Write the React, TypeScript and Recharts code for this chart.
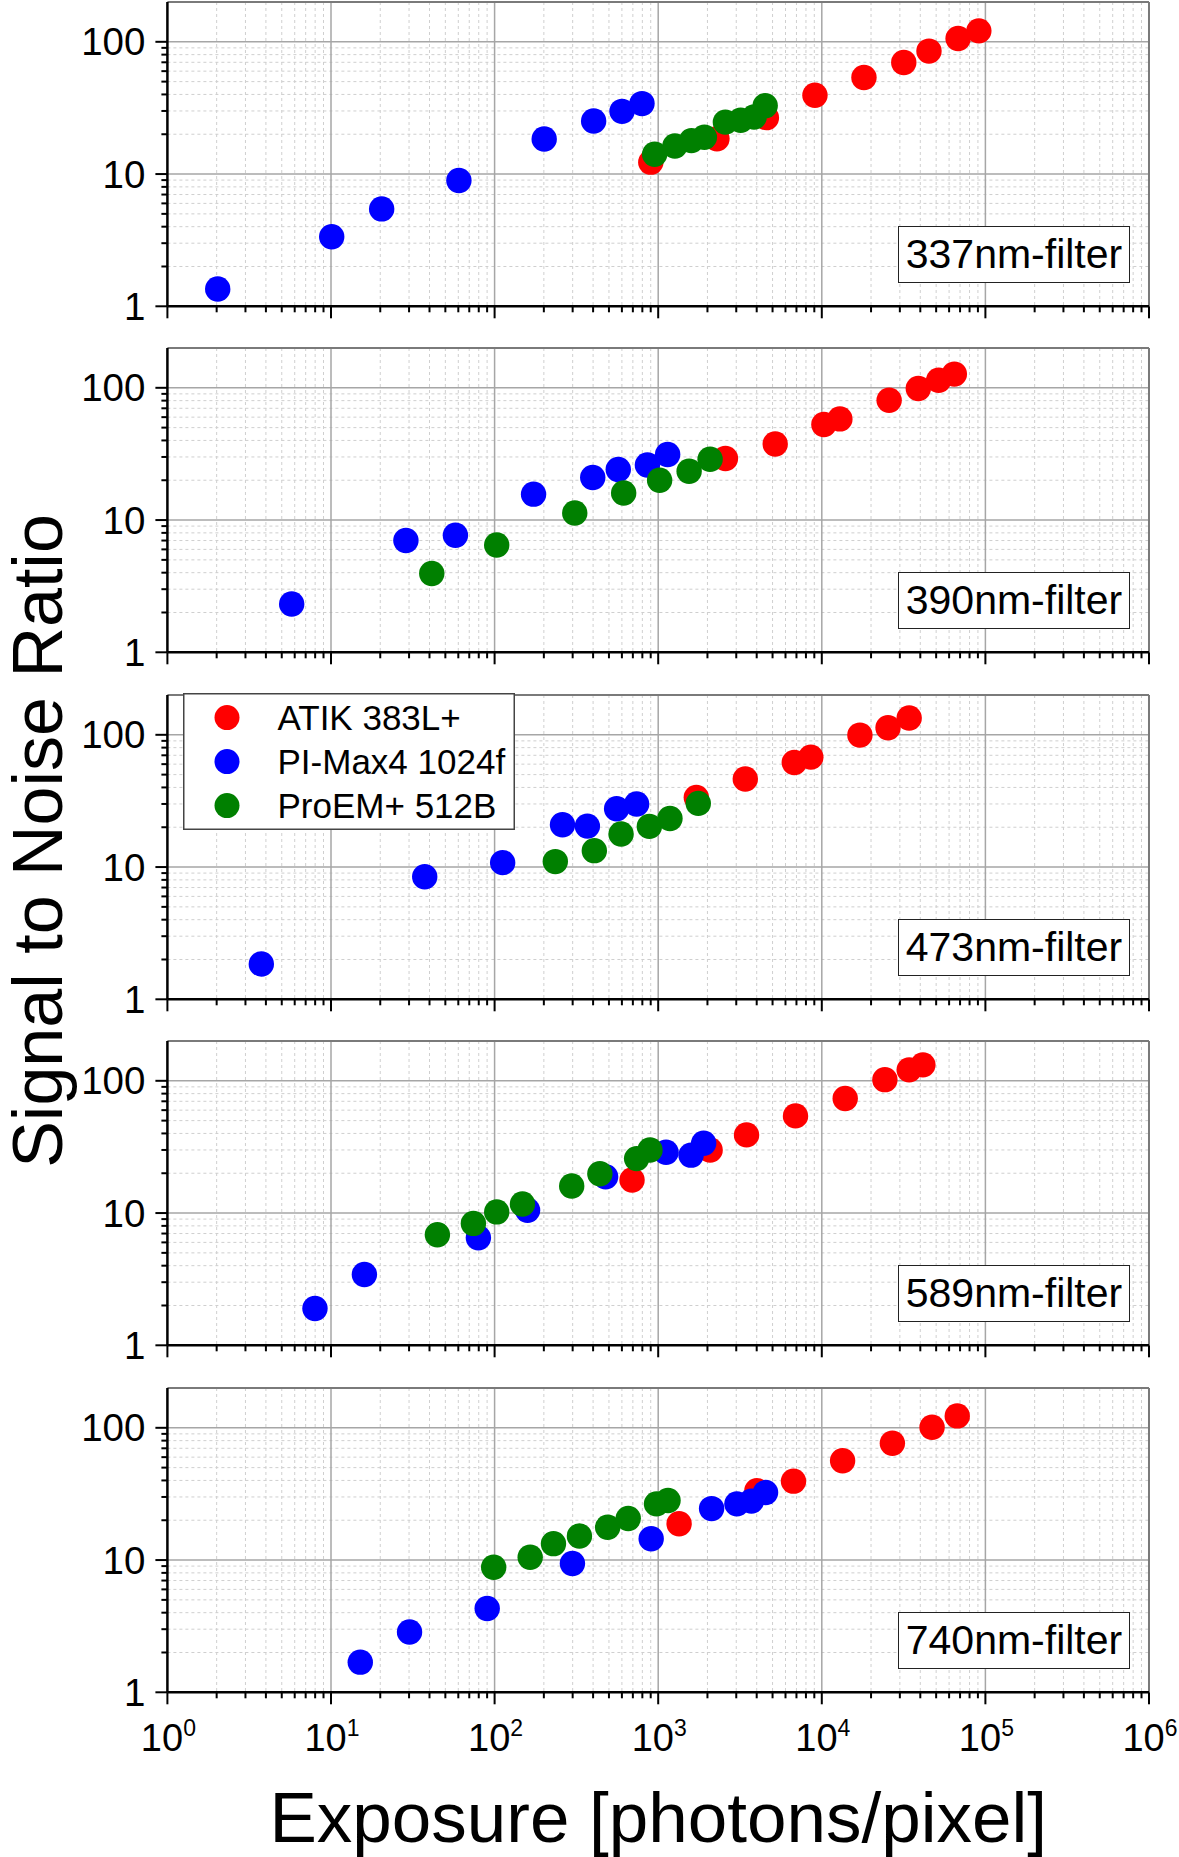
import React from 'react';
import { ScatterChart, Scatter, XAxis, YAxis, CartesianGrid } from 'recharts';

const FONT = '"Liberation Sans", Arial, Helvetica, sans-serif';

// ---------- series / labels ----------
const seriesNames = ['ATIK 383L+', 'PI-Max4 1024f', 'ProEM+ 512B'];
const seriesColors = ['#ff0000', '#0000ff', '#008000'];
const filterLabels = ['337nm-filter', '390nm-filter', '473nm-filter', '589nm-filter', '740nm-filter'];
const xTitle = 'Exposure [photons/pixel]';
const yTitle = 'Signal to Noise Ratio';

// ---------- ticks ----------
const xMajorTicks = [1, 10, 100, 1000, 10000, 100000, 1000000];
const xTickExponents = ['0', '1', '2', '3', '4', '5', '6'];
const xMinorTicks = [
  2, 3, 4, 5, 6, 7, 8, 9,
  20, 30, 40, 50, 60, 70, 80, 90,
  200, 300, 400, 500, 600, 700, 800, 900,
  2000, 3000, 4000, 5000, 6000, 7000, 8000, 9000,
  20000, 30000, 40000, 50000, 60000, 70000, 80000, 90000,
  200000, 300000, 400000, 500000, 600000, 700000, 800000, 900000,
];
const yMajorTicks = [1, 10, 100];
const yMinorTicks = [2, 3, 4, 5, 6, 7, 8, 9, 20, 30, 40, 50, 60, 70, 80, 90];
const xDomain = [1, 1000000];
const yDomain = [1, 200];

// ---------- data: [exposure, SNR] ----------
const atik337 = [[901, 12.3], [2286, 18.5], [4585, 26.7], [9080, 39.4], [18100, 53.7], [31700, 69.8], [45200, 85.1], [68100, 106], [91200, 121]];
const piMax337 = [[2.03, 1.35], [10.1, 3.36], [20.4, 5.45], [60.5, 8.93], [201, 18.4], [403, 25.2], [601, 29.8], [796, 34.1]];
const proEm337 = [[951, 14.1], [1265, 16.3], [1596, 17.9], [1915, 19.0], [2574, 24.7], [3193, 25.5], [3856, 27.0], [4508, 32.9]];

const atik390 = [[2576, 29.2], [5190, 37.6], [10300, 52.8], [12900, 58.2], [25800, 80.5], [38900, 98.8], [51800, 114], [64600, 127]];
const piMax390 = [[5.75, 2.32], [28.7, 7.0], [57.6, 7.67], [173, 15.7], [398, 21.0], [570, 24.1], [859, 26.1], [1142, 31.3]];
const proEm390 = [[41.3, 3.94], [103, 6.48], [309, 11.3], [615, 16.0], [1020, 20.0], [1545, 23.4], [2076, 28.8]];

const atik473 = [[1710, 33.6], [3407, 46.3], [6790, 61.8], [8570, 67.8], [17100, 99.5], [25400, 113], [34200, 134]];
const piMax473 = [[3.75, 1.85], [37.4, 8.45], [112, 10.8], [260, 20.9], [369, 20.4], [557, 27.6], [738, 30.0]];
const proEm473 = [[235, 11.0], [407, 13.3], [593, 17.8], [883, 20.3], [1180, 23.3], [1758, 30.3]];

const atik589 = [[692, 17.8], [2077, 30.0], [3467, 39.0], [6906, 54.3], [13900, 73.5], [24300, 102], [34200, 121], [41500, 132]];
const piMax589 = [[7.98, 1.9], [16.0, 3.43], [79.6, 6.5], [159, 10.5], [477, 18.8], [1117, 28.8], [1588, 27.4], [1896, 33.7]];
const proEm589 = [[44.7, 6.85], [74.2, 8.35], [103, 10.2], [148, 11.7], [296, 16.0], [440, 19.8], [738, 25.8], [891, 30.0]];

const atik740 = [[1342, 18.8], [4010, 33.5], [6715, 39.5], [13400, 56.3], [27000, 76.5], [47200, 101], [67300, 123]];
const piMax740 = [[15.1, 1.69], [30.2, 2.86], [90.1, 4.3], [299, 9.41], [906, 14.5], [2120, 24.5], [3027, 26.6], [3713, 27.9], [4530, 32.4]];
const proEm740 = [[98.7, 8.83], [165, 10.5], [229, 13.3], [330, 15.2], [491, 17.7], [656, 20.6], [976, 26.6], [1148, 28.2]];

const panels = [
  { label: filterLabels[0], series: [atik337, piMax337, proEm337] },
  { label: filterLabels[1], series: [atik390, piMax390, proEm390] },
  { label: filterLabels[2], series: [atik473, piMax473, proEm473] },
  { label: filterLabels[3], series: [atik589, piMax589, proEm589] },
  { label: filterLabels[4], series: [atik740, piMax740, proEm740] },
];

const toPoints = (arr: number[][]) => arr.map(([x, y]) => ({ x, y }));

// ---------- layout ----------
const W = 1179;
const PLOT_LEFT = 167.4;
const PLOT_RIGHT = 1149;
const PLOT_H = 304.3;
const TOP0 = 1.5;
const STEP = 346.5;
const M_TOP = 10;
const XAXIS_H = 90;
const DOT_R = 12.7;

const makeXTick = (showLabels: boolean) => (props: any) => {
  const { x, y, payload } = props;
  const v = payload.value;
  const mi = xMajorTicks.indexOf(v);
  const major = mi >= 0;
  return (
    <g>
      <line x1={x} x2={x} y1={y} y2={y + (major ? 12 : 6)} stroke="#000" strokeWidth={2} />
      {showLabels && major && (
        <text x={x + 1} y={y + 59} textAnchor="middle" fontSize={38} fontFamily={FONT} fill="#000">
          10
          <tspan dy={-15} fontSize={23}>{xTickExponents[mi]}</tspan>
        </text>
      )}
    </g>
  );
};

const renderYTick = (props: any) => {
  const { x, y, payload } = props;
  const v = payload.value;
  const major = yMajorTicks.includes(v);
  return (
    <g>
      <line x1={x - (major ? 12 : 6)} x2={x} y1={y} y2={y} stroke="#000" strokeWidth={2} />
      {major && (
        <text x={x - 22} y={y + 13.5} textAnchor="end" fontSize={38.5} fontFamily={FONT} fill="#000">
          {v}
        </text>
      )}
    </g>
  );
};

const Panel = ({ idx }: { idx: number }) => {
  const p = panels[idx];
  const plotTop = TOP0 + idx * STEP;
  const plotBottom = plotTop + PLOT_H;
  const h = M_TOP + PLOT_H + XAXIS_H;
  const isLast = idx === panels.length - 1;
  return (
    <>
      <div style={{ position: 'absolute', left: 0, top: plotTop - M_TOP, width: W, height: h }}>
        <ScatterChart width={W} height={h} margin={{ top: M_TOP, right: W - PLOT_RIGHT, bottom: 0, left: 0 }}>
          <CartesianGrid
            horizontalValues={yMinorTicks}
            verticalValues={xMinorTicks}
            stroke="#cfcfcf"
            strokeDasharray="3 3"
            strokeWidth={1}
          />
          <CartesianGrid
            horizontalValues={[10, 100]}
            verticalValues={[10, 100, 1000, 10000, 100000]}
            stroke="#a6a6a6"
            strokeWidth={1.5}
          />
          <CartesianGrid horizontalValues={[200]} verticalValues={[1000000]} stroke="#7a7a7a" strokeWidth={2} />
          <XAxis
            type="number"
            dataKey="x"
            scale="log"
            domain={xDomain}
            allowDataOverflow
            ticks={[...xMajorTicks, ...xMinorTicks]}
            interval={0}
            tickSize={0}
            tickMargin={0}
            tickLine={false}
            axisLine={{ stroke: '#000', strokeWidth: 2.5 }}
            tick={makeXTick(isLast)}
            height={XAXIS_H}
          />
          <YAxis
            type="number"
            dataKey="y"
            scale="log"
            domain={yDomain}
            allowDataOverflow
            ticks={[...yMajorTicks, ...yMinorTicks]}
            interval={0}
            tickSize={0}
            tickMargin={0}
            tickLine={false}
            axisLine={{ stroke: '#000', strokeWidth: 2.5 }}
            tick={renderYTick}
            width={PLOT_LEFT}
          />
          {p.series.map((s, si) => (
            <Scatter
              key={si}
              name={seriesNames[si]}
              data={toPoints(s)}
              fill={seriesColors[si]}
              isAnimationActive={false}
              shape={(sp: any) => <circle cx={sp.cx} cy={sp.cy} r={DOT_R} fill={seriesColors[si]} />}
            />
          ))}
        </ScatterChart>
      </div>
      <div
        style={{
          position: 'absolute',
          left: 898,
          top: plotBottom - 23 - 57,
          width: 232,
          height: 57,
          boxSizing: 'border-box',
          border: '1.5px solid #222',
          background: '#fff',
          display: 'flex',
          alignItems: 'center',
          justifyContent: 'center',
          fontFamily: FONT,
          fontSize: 41,
          color: '#000',
          whiteSpace: 'nowrap',
        }}
      >
        {p.label}
      </div>
    </>
  );
};

const LegendBox = () => {
  const top = TOP0 + 2 * STEP - 2;
  return (
    <svg style={{ position: 'absolute', left: 183, top, overflow: 'visible' }} width={332} height={137}>
      <rect x={0.75} y={0.75} width={330.5} height={135.5} fill="#fff" stroke="#444" strokeWidth={1.5} />
      {seriesNames.map((n, i) => (
        <g key={n}>
          <circle cx={44} cy={24.6 + i * 44} r={12.5} fill={seriesColors[i]} />
          <text x={94.5} y={24.6 + i * 44 + 12.5} fontSize={35} fontFamily={FONT} fill="#000">
            {n}
          </text>
        </g>
      ))}
    </svg>
  );
};

export default function App() {
  return (
    <div style={{ position: 'absolute', left: 0, top: 0, width: W, height: 1857, background: '#fff', overflow: 'hidden' }}>
      {panels.map((_, i) => (
        <Panel key={i} idx={i} />
      ))}
      <LegendBox />
      <svg style={{ position: 'absolute', left: 0, top: 0, pointerEvents: 'none' }} width={W} height={1857}>
        <text
          transform="translate(62,841) rotate(-90)"
          textAnchor="middle"
          fontSize={70}
          fontFamily={FONT}
          fill="#000"
        >
          {yTitle}
        </text>
        <text x={(PLOT_LEFT + PLOT_RIGHT) / 2} y={1841.7} textAnchor="middle" fontSize={71} fontFamily={FONT} fill="#000">
          {xTitle}
        </text>
      </svg>
    </div>
  );
}
